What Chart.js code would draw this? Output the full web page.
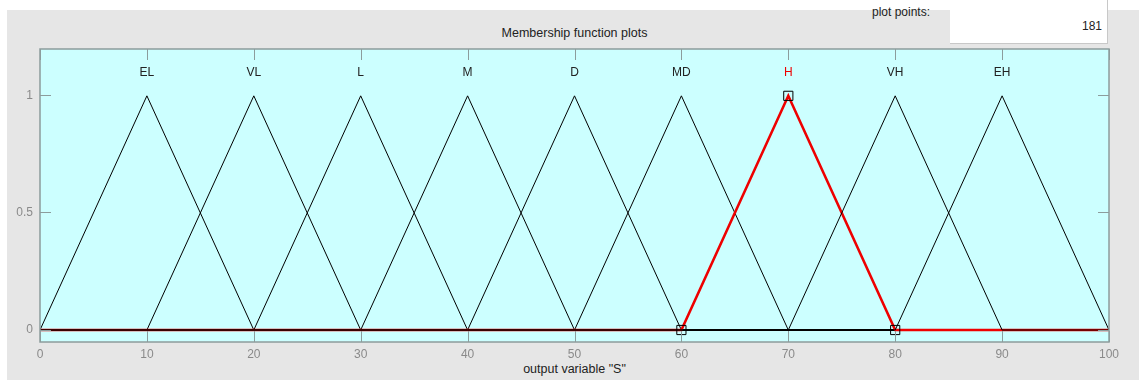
<!DOCTYPE html>
<html>
<head>
<meta charset="utf-8">
<script src="https://cdn.jsdelivr.net/npm/chart.js@4"></script>
<style>
  body { margin: 0; background: #ffffff; font-family: Arial, "Liberation Sans", sans-serif; }
  #wrap { position: relative; width: 1139px; height: 383px; overflow: hidden; }
  #panel { position: absolute; left: 7px; top: 10px; width: 1132px; height: 370px; background: #e6e6e6; }
  #ppBox { position: absolute; left: 950px; top: 0; width: 157px; height: 43px; background: #fff;
           border-right: 1px solid #c8c8c8; border-bottom: 1px solid #c8c8c8; }
  #ppVal { position: absolute; right: 5px; top: 19px; font-size: 12px; color: #222; }
  #ppLabel { position: absolute; left: 872px; top: 5px; font-size: 12px; color: #222; }
  #title { position: absolute; left: 0; width: 1149px; top: 26px; text-align: center; font-size: 12.5px; color: #222; }
  #xTitle { position: absolute; left: 0; width: 1149px; top: 362px; text-align: center; font-size: 12.5px; color: #222; }
  canvas { position: absolute; left: 0; top: 0; }
</style>
</head>
<body>
<div id="wrap">
  <div id="panel"></div>
  <div id="ppBox"><span id="ppVal">181</span></div>
  <div id="ppLabel">plot points:</div>
  <div id="title">Membership function plots</div>
  <div id="xTitle">output variable "S"</div>
  <canvas id="mf" width="1139" height="383"></canvas>
</div>
<script>
// membership functions of output variable "S" (trimf a, b, c)
const mfNames = ["EL", "VL", "L", "M", "D", "MD", "H", "VH", "EH"];
const mfA = [0, 10, 20, 30, 40, 50, 60, 70, 80];
const mfB = [10, 20, 30, 40, 50, 60, 70, 80, 90];
const mfC = [20, 30, 40, 50, 60, 70, 80, 90, 100];
const selected = "H";
const xRange = [0, 100];
const yRange = [-0.05, 1.2];
const xTicks = [0, 10, 20, 30, 40, 50, 60, 70, 80, 90, 100];
const yTicks = [0, 0.5, 1];

const FONT = "Arial, 'Liberation Sans', sans-serif";

function tri(i) {
  return [
    { x: xRange[0], y: 0 },
    { x: mfA[i], y: 0 },
    { x: mfB[i], y: 1 },
    { x: mfC[i], y: 0 },
    { x: xRange[1], y: 0 }
  ];
}

// later mfs are drawn over earlier ones (lower order = on top)
const datasets = mfNames.map((name, i) => {
  const sel = name === selected;
  return {
    label: name,
    data: tri(i),
    borderColor: sel ? "#ee0000" : "#000000",
    borderWidth: sel ? 2.6 : 1,
    pointRadius: 0,
    order: 20 - i
  };
});

const si = mfNames.indexOf(selected);
datasets.push({
  label: "params",
  data: [{ x: mfA[si], y: 0 }, { x: mfB[si], y: 1 }, { x: mfC[si], y: 0 }],
  showLine: false,
  pointStyle: "rect",
  pointRadius: 6.5,
  pointBorderColor: "#000",
  pointBorderWidth: 1,
  pointBackgroundColor: "rgba(0,0,0,0)",
  order: 0
});

const AXIS_COLOR = "#8c9c9c";
const TICK_LEN = 11;

const plotDeco = {
  id: "plotDeco",
  beforeDatasetsDraw(chart) {
    const { ctx, chartArea: a } = chart;
    ctx.save();
    ctx.fillStyle = "#ccffff";
    ctx.fillRect(a.left, a.top, a.right - a.left, a.bottom - a.top);
    ctx.restore();
  },
  afterDatasetsDraw(chart) {
    const { ctx, chartArea: a, scales } = chart;
    const bottom = Math.round(a.bottom);
    ctx.save();
    ctx.strokeStyle = AXIS_COLOR;
    ctx.lineWidth = 1;
    ctx.beginPath();
    xTicks.forEach(v => {
      const px = Math.round(scales.x.getPixelForValue(v)) + 0.5;
      ctx.moveTo(px, bottom); ctx.lineTo(px, bottom - TICK_LEN);
      ctx.moveTo(px, a.top); ctx.lineTo(px, a.top + TICK_LEN);
    });
    yTicks.forEach(v => {
      const py = Math.floor(scales.y.getPixelForValue(v)) + 0.5;
      ctx.moveTo(a.left, py); ctx.lineTo(a.left + TICK_LEN, py);
      ctx.moveTo(a.right, py); ctx.lineTo(a.right - TICK_LEN, py);
    });
    ctx.stroke();
    ctx.lineWidth = 1.5;
    ctx.strokeRect(a.left, a.top, a.right - a.left, bottom - a.top);

    // mf names above the peaks
    ctx.font = "12px " + FONT;
    ctx.textAlign = "center";
    ctx.textBaseline = "middle";
    mfNames.forEach((name, i) => {
      ctx.fillStyle = name === selected ? "#ee0000" : "#222222";
      ctx.fillText(name, scales.x.getPixelForValue(mfB[i]), 73);
    });
    ctx.restore();
  }
};

new Chart(document.getElementById("mf"), {
  type: "line",
  data: { datasets },
  options: {
    responsive: false,
    animation: false,
    layout: { padding: { top: 49, right: 30, left: 0, bottom: 0 } },
    plugins: { legend: { display: false }, tooltip: { enabled: false } },
    elements: { line: { tension: 0 } },
    scales: {
      x: {
        type: "linear",
        min: xRange[0],
        max: xRange[1],
        afterBuildTicks: s => { s.ticks = xTicks.map(v => ({ value: v })); },
        afterFit: s => { s.height = 41.29; },
        grid: { display: false, drawTicks: false },
        border: { display: false },
        ticks: { color: "#8a8a8a", padding: 6, font: { size: 12, family: FONT }, maxRotation: 0,
                 callback: v => String(v) }
      },
      y: {
        type: "linear",
        min: yRange[0],
        max: yRange[1],
        afterBuildTicks: s => { s.ticks = yTicks.map(v => ({ value: v })); },
        afterFit: s => { s.width = 40; },
        grid: { display: false, drawTicks: false },
        border: { display: false },
        ticks: { color: "#8a8a8a", padding: 7, font: { size: 12, family: FONT },
                 callback: v => String(v) }
      }
    }
  },
  plugins: [plotDeco]
});
</script>
</body>
</html>
